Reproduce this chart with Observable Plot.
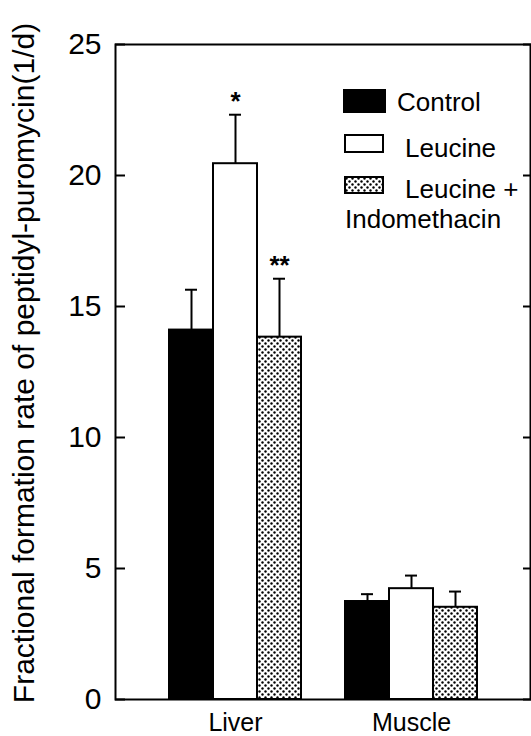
<!DOCTYPE html>
<html><head><meta charset="utf-8">
<script src="https://cdn.jsdelivr.net/npm/d3@7"></script>
<script src="https://cdn.jsdelivr.net/npm/@observablehq/plot@0.6"></script>
<style>html,body{margin:0;padding:0;background:#fff} svg{display:block}</style>
</head><body>
<svg width="0" height="0" style="position:absolute"><defs>
<pattern id="dots" width="6" height="6" patternUnits="userSpaceOnUse">
<rect width="6" height="6" fill="white"/>
<circle cx="1.5" cy="1.5" r="1.2" fill="black"/>
<circle cx="4.5" cy="4.5" r="1.2" fill="black"/>
</pattern></defs></svg>
<div id="chart"></div>
<script>
const tissues = ["Liver", "Muscle"];
const treatments = ["Control", "Leucine", "Leucine + Indomethacin"];
const liverMean = [14.1, 20.45, 13.83];
const liverSE = [1.54, 1.87, 2.23];
const muscleMean = [3.74, 4.23, 3.52];
const muscleSE = [0.28, 0.5, 0.6];
const liverSig = ["", "*", "**"];
const muscleSig = ["", "", ""];
const yTicks = [0, 5, 10, 15, 20, 25];
const fills = ["black", "white", "url(#dots)"];
const legendLines = [["Control"], ["Leucine"], ["Leucine +", "Indomethacin"]];
const yLabel = "Fractional formation rate of peptidyl-puromycin(1/d)";

const key = (t, tr) => `${t} | ${tr}`;
const data = [];
tissues.forEach((t, i) => {
  const means = i === 0 ? liverMean : muscleMean;
  const ses = i === 0 ? liverSE : muscleSE;
  const sig = i === 0 ? liverSig : muscleSig;
  treatments.forEach((tr, j) => {
    data.push({tissue: t, treatment: tr, key: key(t, tr), mean: means[j], upper: means[j] + ses[j], sig: sig[j]});
  });
});
// slots: three bars per tissue, with one empty spacer slot between the groups
const xDomain = [...treatments.map(tr => key("Liver", tr)), "spacer", ...treatments.map(tr => key("Muscle", tr))];

const font = "'Liberation Sans', Arial, sans-serif";
const plot = Plot.plot({
  width: 531, height: 736,
  marginLeft: 115, marginRight: 1, marginTop: 44, marginBottom: 37,
  style: {fontFamily: font, background: "white", color: "black"},
  x: {domain: xDomain, paddingInner: 0, paddingOuter: 1.17, axis: null},
  y: {domain: [0, 25], label: null},
  color: {domain: treatments, range: fills},
  marks: [
    Plot.barY(data, {x: "key", y: "mean", fill: "treatment", stroke: "black", strokeWidth: 2}),
    Plot.ruleX(data, {x: "key", y1: "mean", y2: "upper", strokeWidth: 2}),
    Plot.tickY(data, {x: "key", y: "upper", strokeWidth: 2, insetLeft: 16, insetRight: 16}),
    Plot.text(data, {x: "key", y: "upper", text: "sig", dy: -13, fontSize: 26, fontWeight: "bold"}),
    Plot.frame({strokeWidth: 2}),
    Plot.axisY({anchor: "left", ticks: yTicks, tickSize: -10, tickPadding: 24, fontSize: 30, strokeWidth: 2, label: null}),
    Plot.axisY({anchor: "right", ticks: yTicks, tickSize: -8, tickFormat: () => "", strokeWidth: 2, label: null}),
    Plot.text(tissues, {x: t => key(t, treatments[1]), frameAnchor: "bottom", text: d => d, lineAnchor: "top", dy: 14, fontSize: 25}),
    Plot.text([yLabel], {frameAnchor: "left", text: d => d, rotate: -90, textAnchor: "middle", dx: -91, dy: -9, fontSize: 30})
  ]
});
document.getElementById("chart").appendChild(plot);

// legend inside plot area
const svg = d3.select(plot);
const lg = svg.append("g").attr("font-family", font).attr("font-size", 26).attr("fill", "black").attr("text-anchor", "start");
const sw = [{x: 344, y: 90, w: 41, h: 22}, {x: 345, y: 135, w: 38, h: 17}, {x: 345, y: 177, w: 38, h: 16}];
const tx = [[{x: 397, y: 111}], [{x: 405, y: 157}], [{x: 405, y: 198}, {x: 345, y: 228}]];
treatments.forEach((tr, i) => {
  lg.append("rect").attr("x", sw[i].x).attr("y", sw[i].y).attr("width", sw[i].w).attr("height", sw[i].h)
    .attr("fill", fills[i]).attr("stroke", "black").attr("stroke-width", 2);
  legendLines[i].forEach((line, k) => {
    lg.append("text").attr("x", tx[i][k].x).attr("y", tx[i][k].y).attr("text-anchor", "start").text(line);
  });
});
</script>
</body></html>
